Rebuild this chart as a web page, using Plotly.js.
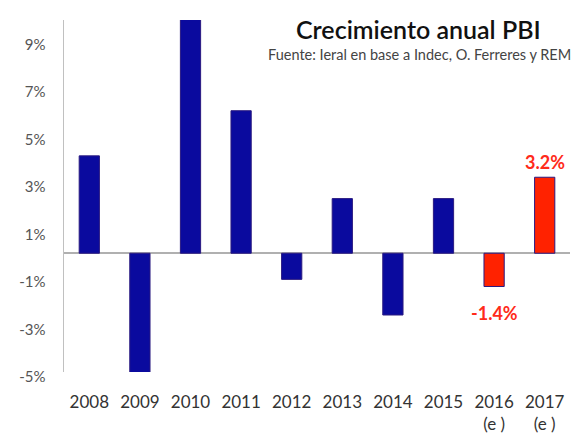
<!DOCTYPE html>
<html>
<head>
<meta charset="utf-8">
<script src="https://cdn.plot.ly/plotly-3.0.1.min.js"></script>
<style>html,body{margin:0;padding:0;background:#fff;}#chart{width:573px;height:439px;}</style>
</head>
<body>
<div id="chart"></div>
<script>
var years = ["2008","2009","2010","2011","2012","2013","2014","2015","2016<br>(e )","2017<br>(e )"];
var growth = [4.1, -5.9, 10.1, 6.0, -1.1, 2.3, -2.6, 2.3, -1.4, 3.2];
var estimated = [false,false,false,false,false,false,false,false,true,true];
var tickVals = [9, 7, 5, 3, 1, -1, -3, -5];
var tickText = ["9%","7%","5%","3%","1%","-1%","-3%","-5%"];
var estimateLabels = ["-1.4%", "3.2%"];

var colors = estimated.map(function(e){ return e ? "#ff2200" : "#0a0a9e"; });

var trace = {
  type: "bar",
  x: years,
  y: growth,
  width: 0.4,
  marker: {color: colors, line: {color: "#2a1a80", width: 1}},
  hoverinfo: "none"
};

var annotations = [];
var ei = 0;
years.forEach(function(yr, i){
  if (estimated[i]) {
    var v = growth[i];
    annotations.push({
      x: yr, y: v, xref: "x", yref: "y",
      text: "<b>" + estimateLabels[ei++] + "</b>",
      showarrow: false,
      yanchor: v < 0 ? "top" : "bottom",
      yshift: v < 0 ? -14 : 2,
      font: {family: "Lato, 'Open Sans', sans-serif", size: 18, color: "#ff2a1a"}
    });
  }
});
annotations.push({
  xref: "paper", yref: "paper", x: 1.0, y: 1.0, xanchor: "right", yanchor: "bottom",
  text: "Crecimiento anual PBI", showarrow: false, xshift: -27, yshift: -26,
  font: {family: "Lato, 'Open Sans', sans-serif", size: 25, color: "#111111", weight: 600}
});
annotations.push({
  xref: "paper", yref: "paper", x: 1.0, y: 1.0, xanchor: "right", yanchor: "bottom",
  text: "Fuente: Ieral en base a Indec, O. Ferreres y REM", showarrow: false, xshift: 3, yshift: -45,
  font: {family: "Lato, 'Open Sans', sans-serif", size: 14.5, color: "#444444"}
});

var layout = {
  width: 573, height: 439,
  margin: {l: 64, r: 3, t: 20, b: 67},
  paper_bgcolor: "#ffffff", plot_bgcolor: "#ffffff",
  showlegend: false,
  bargap: 0.6,
  xaxis: {
    type: "category",
    showgrid: false, zeroline: false, showline: false,
    ticks: "",
    ticklabelstandoff: 18,
    tickfont: {family: "Lato, 'Open Sans', sans-serif", size: 17, color: "#333333"},
    fixedrange: true
  },
  yaxis: {
    range: [-5, 9.82],
    tickvals: tickVals, ticktext: tickText,
    showgrid: false,
    zeroline: true, zerolinecolor: "#b0b0b0", zerolinewidth: 1.5,
    showline: true, linecolor: "#c0c0c0", linewidth: 1.5,
    ticks: "",
    ticklabelstandoff: 14,
    ticklabelshift: 5,
    tickfont: {family: "Lato, 'Open Sans', sans-serif", size: 15, color: "#555555"},
    fixedrange: true
  },
  annotations: annotations
};

Plotly.newPlot("chart", [trace], layout, {displayModeBar: false, staticPlot: true});
</script>
</body>
</html>
